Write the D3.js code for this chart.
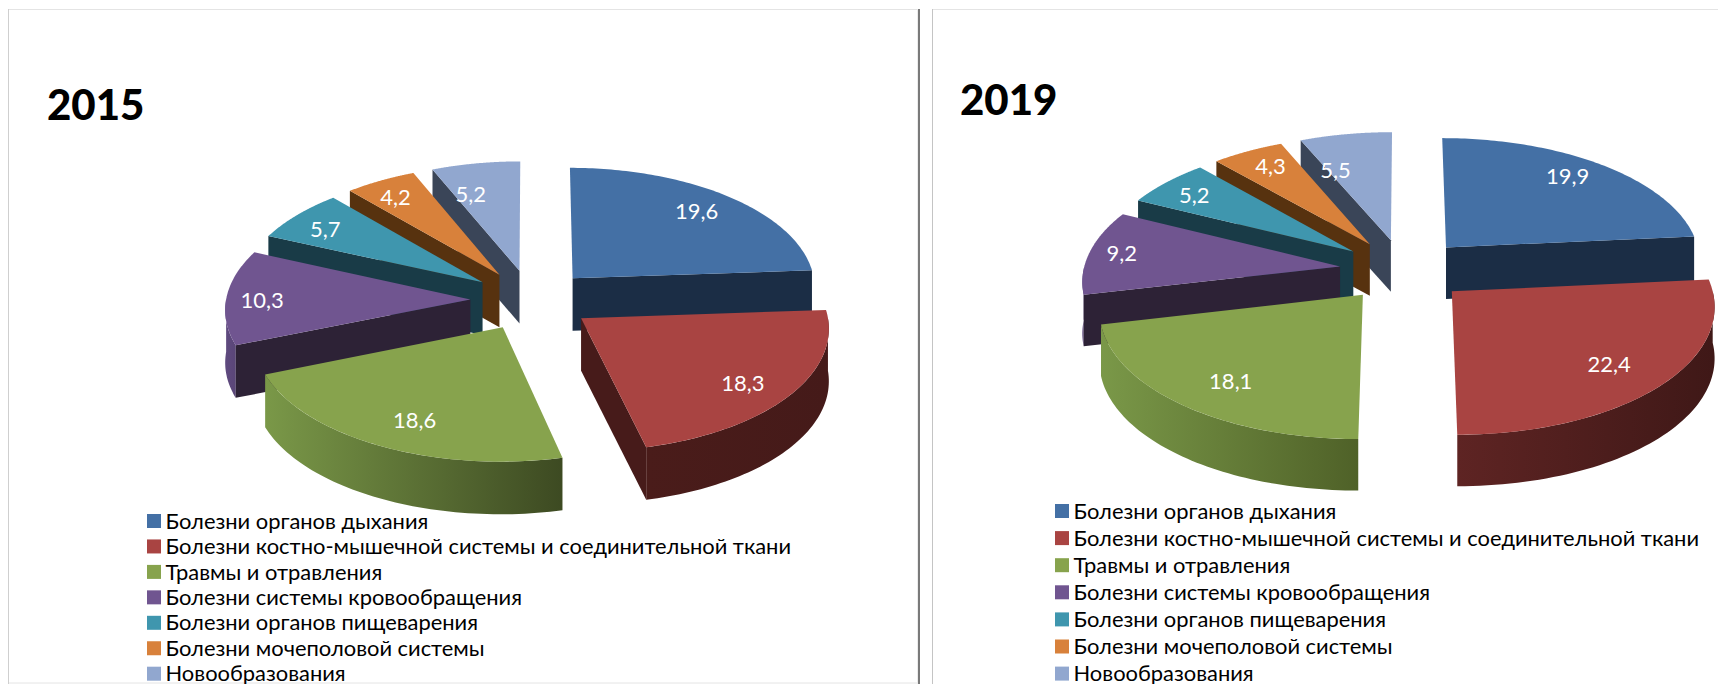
<!DOCTYPE html>
<html><head><meta charset="utf-8">
<script src="https://cdn.jsdelivr.net/npm/d3@7/dist/d3.min.js"></script>
<style>html,body{margin:0;padding:0;background:#fff;overflow:hidden}svg{display:block}</style>
</head><body>
<script>
const categories = ["Болезни органов дыхания","Болезни костно-мышечной системы и соединительной ткани","Травмы и отравления","Болезни системы кровообращения","Болезни органов пищеварения","Болезни мочеполовой системы","Новообразования"];
const values2015 = [19.6,18.3,18.6,10.3,5.7,4.2,5.2];
const values2019 = [19.9,22.4,18.1,9.2,5.2,4.3,5.5];
const valueLabels2015 = ["19,6","18,3","18,6","10,3","5,7","4,2","5,2"];
const valueLabels2019 = ["19,9","22,4","18,1","9,2","5,2","4,3","5,5"];
const topColors = ["#4470a5","#a94442","#87a34d","#705590","#3f96ae","#d8813b","#91a7cf"];
const wallColors = ["#1b2d45","#471b1a","#3d4a22","#2d2236","#193b47","#57320f","#3a4558"];
const arcLeftColors = ["#1b2d45","#4a1c1a","#7a9848","#5f4a7f","#193b47","#57320f","#3a4558"];
const arcRightColors2015 = ["#1b2d45","#451a19","#3d4a22","#5a4678","#193b47","#57320f","#3a4558"];
const arcLeftColors2019 = ["#1b2d45","#5e2423","#7a9848","#5f4a7f","#193b47","#57320f","#3a4558"];
const arcRightColors2019 = ["#1b2d45","#3f1817","#4f6128","#5a4678","#193b47","#57320f","#3a4558"];

const W=1718,H=684;
const svg=d3.select("body").append("svg").attr("width",W).attr("height",H).attr("font-family","Lato, sans-serif");
const defs=svg.append("defs");

// frames
svg.append("rect").attr("x",8.5).attr("y",9.5).attr("width",910).attr("height",673.5).attr("fill","#fff").attr("stroke","#e4e4e4");
svg.append("rect").attr("x",932.5).attr("y",9.5).attr("width",800).attr("height",690).attr("fill","#fff").attr("stroke","#e4e4e4");
svg.append("line").attr("x1",8.5).attr("x2",8.5).attr("y1",9).attr("y2",H).attr("stroke","#cfcfcf");
svg.append("line").attr("x1",932.5).attr("x2",932.5).attr("y1",9).attr("y2",H).attr("stroke","#c4c4c4");
svg.append("line").attr("x1",917.5).attr("x2",917.5).attr("y1",9).attr("y2",H).attr("stroke","#ececec");
svg.append("line").attr("x1",919).attr("x2",919).attr("y1",9).attr("y2",H).attr("stroke","#7a7a7a").attr("stroke-width",2);

const color=d3.scaleOrdinal().domain(categories).range(topColors);
const wall=d3.scaleOrdinal().domain(categories).range(wallColors);

function drawPie(id,values,labels,o){
  const g=svg.append("g");
  const arcL=d3.scaleOrdinal().domain(categories).range(o.arcLeft);
  const arcR=d3.scaleOrdinal().domain(categories).range(o.arcRight);
  const pie=d3.pie().value(d=>d).sort(null)(values);
  const line=d3.line();
  // perspective projection of a point on the exploded disc
  const pt=(d,a,r,z=0)=>{
    const m=(d.startAngle+d.endAngle)/2;
    const X=o.e*Math.sin(m)+r*Math.sin(a),Y=o.e*Math.cos(m)+r*Math.cos(a),s=1/(1+o.p*Y);
    return [o.cx+X*o.rx*s,o.cy-Y*o.ky*s+z];
  };
  const order=[6,5,4,3,0,2,1];
  order.forEach(i=>{
    const d=pie[i],a0=d.startAngle,a1=d.endAngle,cat=categories[i];
    const sg=g.append("g");
    const f0=Math.max(a0,Math.PI/2),f1=Math.min(a1,Math.PI*1.5);
    if(f1>f0){
      const as=d3.range(0,61).map(k=>f0+(f1-f0)*k/60);
      const poly=as.map(a=>pt(d,a,1)).concat(as.slice().reverse().map(a=>pt(d,a,1,o.depth)));
      const gid=`g${id}-arc-${i}`;
      const xs=poly.map(p=>p[0]);
      const lg=defs.append("linearGradient").attr("id",gid).attr("gradientUnits","userSpaceOnUse")
        .attr("x1",d3.min(xs)).attr("x2",d3.max(xs)).attr("y1",0).attr("y2",0);
      lg.append("stop").attr("offset",0).attr("stop-color",arcL(cat));
      lg.append("stop").attr("offset",1).attr("stop-color",arcR(cat));
      sg.append("path").attr("d",line(poly)+"Z").attr("fill",`url(#${gid})`);
    }
    [[a0,a0-Math.PI/2],[a1,a1+Math.PI/2]].forEach(([a,n])=>{
      if(Math.cos(n)<-0.001){
        const q=[pt(d,a,0),pt(d,a,1),pt(d,a,1,o.depth),pt(d,a,0,o.depth)];
        sg.append("path").attr("d",line(q)+"Z").attr("fill",wall(cat));
      }
    });
    const as=d3.range(0,91).map(k=>a0+(a1-a0)*k/90);
    const top=[pt(d,0,0)].concat(as.map(a=>pt(d,a,1)));
    sg.append("path").attr("d",line(top)+"Z").attr("fill",color(cat));
  });
  pie.forEach((d,i)=>{
    const m=(d.startAngle+d.endAngle)/2,q=pt(d,m,o.labelR);
    g.append("text").attr("x",q[0]+o.nudge[i][0]*1.096).attr("y",q[1]+o.nudge[i][1]*1.096).attr("dy","0.36em").attr("text-anchor","middle")
      .attr("fill","#fff").attr("font-size",o.labelSize).text(labels[i]);
  });
  g.append("text").attr("x",o.titleX).attr("y",o.titleY).attr("font-size",42).attr("font-weight",900).attr("fill","#000").text(id);
  const lg=g.append("g");
  categories.forEach((c,i)=>{
    const y=o.legendY+i*o.legendStep;
    lg.append("rect").attr("x",o.legendX).attr("y",y-7).attr("width",14).attr("height",14).attr("fill",color(c));
    lg.append("text").attr("x",o.legendX+18.5).attr("y",y).attr("dy","0.35em").attr("font-size",o.legendSize).attr("fill","#000").text(c);
  });
}
drawPie("2015",values2015,valueLabels2015,{cx:531.4,cy:300,rx:244.3,ky:121,p:0.07,e:0.25,depth:52.6,labelSize:22,labelR:0.8,
  nudge:[[-1,-0.5],[-4,3.5],[9,-0.5],[-12,2.5],[-7,0.5],[-7,-1.5],[-12,9.5]],
  arcLeft:arcLeftColors,arcRight:arcRightColors2015,
  titleX:47,titleY:120,legendX:147,legendY:521,legendStep:25.45,legendSize:21.9});
drawPie("2019",values2019,valueLabels2019,{cx:1403.6,cy:270,rx:256.5,ky:124.5,p:0.1,e:0.25,depth:51.5,labelSize:22,labelR:0.8,
  nudge:[[-4,-3.5],[-8,-0.5],[9,-0.5],[-16,-1.5],[-7,-0.5],[0,-2.5],[-17,14.5]],
  arcLeft:arcLeftColors2019,arcRight:arcRightColors2019,
  titleX:960,titleY:115,legendX:1055,legendY:511,legendStep:27.1,legendSize:21.9});
</script>
</body></html>
